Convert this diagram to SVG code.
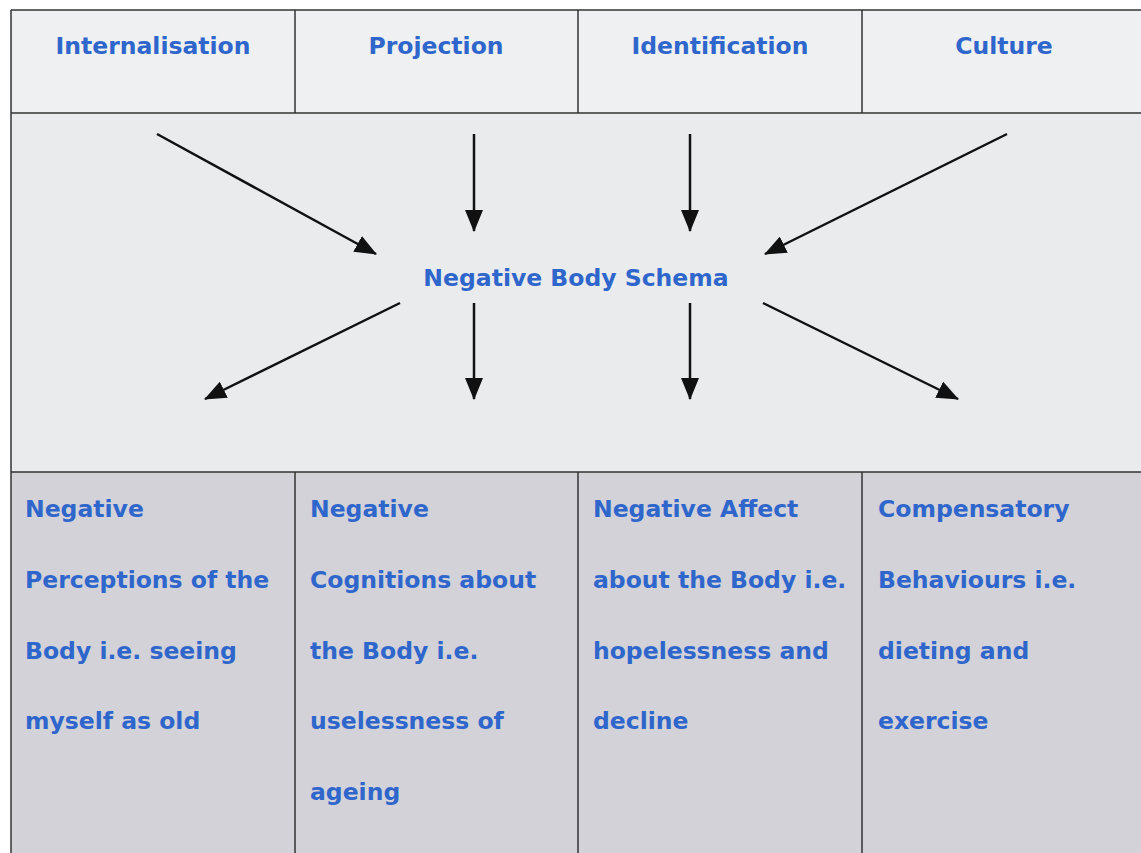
<svg xmlns="http://www.w3.org/2000/svg" width="1141" height="853" viewBox="0 0 1141 853">
<style>
.t{font-family:"DejaVu Sans","Noto Sans",sans-serif;font-weight:bold;font-size:23.5px;fill:#2f66cc}
.c{stroke:#111;stroke-width:2.5;fill:none;marker-end:url(#ah)}
.grid{stroke:#333;stroke-width:1.5;fill:none}
</style>
<defs>
<marker id="ah" markerWidth="22" markerHeight="18" refX="21" refY="9" orient="auto" markerUnits="userSpaceOnUse" viewBox="0 0 22 18">
<path d="M0,0 L22,9 L0,18 Z" fill="#111"/>
</marker>
</defs>
<rect x="0" y="0" width="1141" height="853" fill="#ffffff"/>
<rect x="11" y="10" width="1140" height="103" fill="#eef0f2"/>
<rect x="11" y="113" width="1140" height="359" fill="#e9ebed"/>
<rect x="11" y="472" width="1140" height="400" fill="#d2d2d8"/>
<g id="grid" class="grid">
<line x1="11" y1="10" x2="1141" y2="10"/>
<line x1="11" y1="113" x2="1141" y2="113"/>
<line x1="11" y1="472" x2="1141" y2="472"/>
<line x1="11" y1="10" x2="11" y2="853"/>
<line x1="295" y1="10" x2="295" y2="113"/>
<line x1="578" y1="10" x2="578" y2="113"/>
<line x1="862" y1="10" x2="862" y2="113"/>
<line x1="295" y1="472" x2="295" y2="853"/>
<line x1="578" y1="472" x2="578" y2="853"/>
<line x1="862" y1="472" x2="862" y2="853"/>
</g>
<g id="internalisation"><text class="t" x="153" y="54" text-anchor="middle">Internalisation</text></g>
<g id="projection"><text class="t" x="436" y="54" text-anchor="middle">Projection</text></g>
<g id="identification"><text class="t" x="720" y="54" text-anchor="middle">Identification</text></g>
<g id="culture"><text class="t" x="1004" y="54" text-anchor="middle">Culture</text></g>
<g id="schema"><text class="t" x="576" y="286" text-anchor="middle">Negative Body Schema</text></g>
<g id="perceptions"><text class="t" x="25" y="517">Negative</text><text class="t" x="25" y="588">Perceptions of the</text><text class="t" x="25" y="659">Body i.e. seeing</text><text class="t" x="25" y="729">myself as old</text></g>
<g id="cognitions"><text class="t" x="310" y="517">Negative</text><text class="t" x="310" y="588">Cognitions about</text><text class="t" x="310" y="659">the Body i.e.</text><text class="t" x="310" y="729">uselessness of</text><text class="t" x="310" y="800">ageing</text></g>
<g id="affect"><text class="t" x="593" y="517">Negative Affect</text><text class="t" x="593" y="588">about the Body i.e.</text><text class="t" x="593" y="659">hopelessness and</text><text class="t" x="593" y="729">decline</text></g>
<g id="compensatory"><text class="t" x="878" y="517">Compensatory</text><text class="t" x="878" y="588">Behaviours i.e.</text><text class="t" x="878" y="659">dieting and</text><text class="t" x="878" y="729">exercise</text></g>
<g id="connectors">
<line class="c" x1="157" y1="134" x2="376" y2="254"/>
<line class="c" x1="474" y1="134" x2="474" y2="231"/>
<line class="c" x1="690" y1="134" x2="690" y2="231"/>
<line class="c" x1="1007" y1="134" x2="765" y2="254"/>
<line class="c" x1="400" y1="303" x2="205" y2="399"/>
<line class="c" x1="474" y1="303" x2="474" y2="399"/>
<line class="c" x1="690" y1="303" x2="690" y2="399"/>
<line class="c" x1="763" y1="303" x2="958" y2="399"/>
</g>
</svg>
